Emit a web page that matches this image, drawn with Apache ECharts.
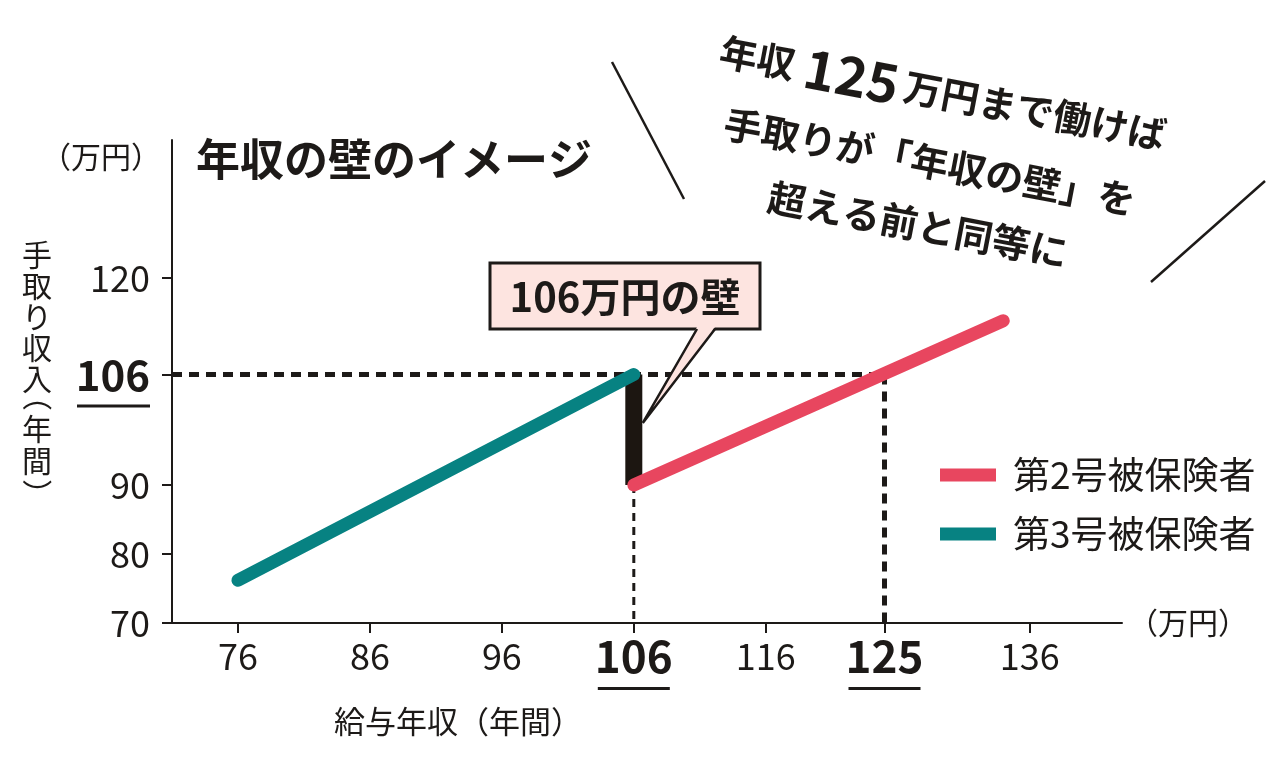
<!DOCTYPE html>
<html>
<head>
<meta charset="utf-8">
<script src="https://cdn.jsdelivr.net/npm/echarts@6/dist/echarts.min.js"></script>
<style>
html,body{margin:0;padding:0;background:#ffffff;}
#c{width:1280px;height:763px;}
</style>
</head>
<body>
<div id="c"></div>
<script>
// ---- data ----
const xTicks = [76, 86, 96, 106, 116, 125, 136];
const yTicks = [70, 80, 90, 106, 120];
const emphXTicks = [106, 125];
const emphYTicks = [106];
const seriesNames = ['第2号被保険者', '第3号被保険者'];
const dai2Line = [[106, 90], [134, 113.8]];
const dai3Line = [[76, 76.2], [106, 106]];
const wallBar = [[106, 90], [106, 106]];
const guideH106 = [[71, 106], [125, 106]];
const guideV125 = [[125, 106], [125, 70]];
const guideV106 = [[106, 90], [106, 70]];
const calloutTip = [106, 99];
const titleText = '年収の壁のイメージ';
const calloutText = '106万円の壁';
const unitText = '（万円）';
const yNameMain = '手\n取\nり\n収\n入';
const yNameSub = '年\n間';
const xNameText = '給与年収（年間）';
const noteText = '{a|年収}{n|125}{a|万円まで働けば}\n手取りが「年収の壁」を\n超える前と同等に';

const FONT = '"Noto Sans CJK JP", "Noto Sans CJK SC", sans-serif';
const INK = '#1d1a18';
const RED = '#e8465f';
const TEAL = '#078282';
const PINK = '#fde4e0';

const chart = echarts.init(document.getElementById('c'), null, {renderer: 'canvas'});

const option = {
  animation: false,
  backgroundColor: '#ffffff',
  grid: {left: 172, right: 158, top: 140, bottom: 140, containLabel: false},
  legend: {
    data: seriesNames,
    orient: 'vertical',
    left: 940,
    top: 453,
    padding: 0,
    itemWidth: 56,
    itemHeight: 13,
    itemGap: 15,
    icon: 'rect',
    itemStyle: {borderWidth: 0},
    textStyle: {fontFamily: FONT, fontSize: 37, lineHeight: 44, color: INK, padding: [0, 0, 0, 12]},
    selectedMode: false
  },
  xAxis: {
    type: 'value',
    min: 71,
    max: 143,
    name: unitText,
    nameLocation: 'end',
    nameGap: 6,
    nameTextStyle: {fontFamily: FONT, fontSize: 30, color: INK, verticalAlign: 'middle'},
    axisLine: {show: true, lineStyle: {color: INK, width: 2}},
    axisTick: {show: true, length: 10, lineStyle: {color: INK, width: 2}, customValues: xTicks},
    splitLine: {show: false},
    axisLabel: {
      customValues: xTicks,
      margin: 2,
      fontFamily: FONT,
      color: INK,
      formatter: function (v) {
        return emphXTicks.indexOf(v) >= 0 ? '{b|' + v + '}\n{u|}' : '{r|' + v + '}';
      },
      rich: {
        r: {fontFamily: FONT, fontSize: 36, lineHeight: 62, color: INK},
        b: {fontFamily: FONT, fontSize: 44, fontWeight: 'bold', lineHeight: 62, color: INK},
        u: {width: 72, height: 3, backgroundColor: INK}
      }
    }
  },
  yAxis: {
    type: 'value',
    min: 70,
    max: 140,
    axisLine: {show: true, lineStyle: {color: INK, width: 2}},
    axisTick: {show: true, length: 10, lineStyle: {color: INK, width: 2}, customValues: yTicks},
    splitLine: {show: false},
    axisLabel: {
      customValues: yTicks,
      margin: 22,
      fontFamily: FONT,
      color: INK,
      formatter: function (v) {
        return emphYTicks.indexOf(v) >= 0 ? '{sp|}\n{yb|' + v + '}\n{u|}' : '{yr|' + v + '}';
      },
      rich: {
        yr: {fontFamily: FONT, fontSize: 36, lineHeight: 44, color: INK},
        yb: {fontFamily: FONT, fontSize: 42, fontWeight: 'bold', lineHeight: 60, color: INK},
        sp: {width: 10, height: 3},
        u: {width: 73, height: 3, backgroundColor: INK}
      }
    }
  },
  series: [
    {
      name: 'guide-h', type: 'line', data: guideH106, symbol: 'none', silent: true, z: 1,
      lineStyle: {color: INK, width: 5, type: [10, 7]}
    },
    {
      name: 'guide-125', type: 'line', data: guideV125, symbol: 'none', silent: true, z: 1,
      lineStyle: {color: INK, width: 5, type: [10, 7]}
    },
    {
      name: 'guide-106', type: 'line', data: guideV106, symbol: 'none', silent: true, z: 1,
      lineStyle: {color: INK, width: 3, type: [8, 6]}
    },
    {
      name: 'wall', type: 'line', data: wallBar, symbol: 'none', silent: true, z: 2,
      lineStyle: {color: '#1c1611', width: 17, cap: 'butt'}
    },
    {
      name: seriesNames[1], type: 'line', data: dai3Line, symbol: 'none', z: 3,
      itemStyle: {color: TEAL},
      lineStyle: {color: TEAL, width: 13, cap: 'round'}
    },
    {
      name: seriesNames[0], type: 'line', data: dai2Line, symbol: 'none', z: 3,
      itemStyle: {color: RED},
      lineStyle: {color: RED, width: 13, cap: 'round'}
    }
  ]
};

chart.setOption(option);

const tip = chart.convertToPixel({gridIndex: 0}, calloutTip);
const tipX = tip[0] + 9;
const tipY = tip[1];
const bx = 490, by = 263, bw = 270, bh = 66;
const p1 = 697, p2 = 715;
const CW = -Math.PI / 2;

chart.setOption({
  graphic: [
    {
      type: 'text', id: 'title', x: 196, y: 159, z: 20,
      style: {text: titleText, fontFamily: FONT, fontSize: 44, fontWeight: 'bold', fill: INK, align: 'left', verticalAlign: 'middle'}
    },
    {
      type: 'text', id: 'yunit', x: 101, y: 157, z: 20,
      style: {text: unitText, fontFamily: FONT, fontSize: 30, fill: INK, align: 'center', verticalAlign: 'middle'}
    },
    {
      type: 'text', id: 'yname1', x: 37, y: 239, z: 20,
      style: {text: yNameMain, fontFamily: FONT, fontSize: 30, lineHeight: 31, fill: INK, align: 'center', verticalAlign: 'top'}
    },
    {
      type: 'text', id: 'yparenL', x: 37, y: 396, z: 20, rotation: CW,
      style: {text: '（', fontFamily: FONT, fontSize: 30, fill: INK, align: 'center', verticalAlign: 'middle'}
    },
    {
      type: 'text', id: 'yname2', x: 37, y: 413, z: 20,
      style: {text: yNameSub, fontFamily: FONT, fontSize: 30, lineHeight: 32, fill: INK, align: 'center', verticalAlign: 'top'}
    },
    {
      type: 'text', id: 'yparenR', x: 37, y: 494, z: 20, rotation: CW,
      style: {text: '）', fontFamily: FONT, fontSize: 30, fill: INK, align: 'center', verticalAlign: 'middle'}
    },
    {
      type: 'text', id: 'xname', x: 458, y: 721, z: 20,
      style: {text: xNameText, fontFamily: FONT, fontSize: 31, fill: INK, align: 'center', verticalAlign: 'middle'}
    },
    {
      type: 'rect', id: 'cbox', z: 10,
      shape: {x: bx, y: by, width: bw, height: bh},
      style: {fill: PINK, stroke: INK, lineWidth: 3}
    },
    {
      type: 'polygon', id: 'cptrfill', z: 11,
      shape: {points: [[p1, by + bh - 2], [p2, by + bh - 2], [tipX, tipY]]},
      style: {fill: PINK}
    },
    {
      type: 'polyline', id: 'cptrline', z: 12,
      shape: {points: [[p1, by + bh], [tipX, tipY], [p2, by + bh]]},
      style: {stroke: INK, lineWidth: 2.5, fill: null, lineJoin: 'miter'}
    },
    {
      type: 'text', id: 'ctext', x: bx + bw / 2, y: by + bh / 2 + 1, z: 13,
      style: {text: calloutText, fontFamily: FONT, fontSize: 40, fontWeight: 'bold', fill: INK, align: 'center', verticalAlign: 'middle'}
    },
    {
      type: 'text', id: 'note', x: 931, y: 156, z: 20,
      rotation: -10.8 * Math.PI / 180,
      style: {
        text: noteText,
        fontFamily: FONT, fontSize: 38, fontWeight: 'bold', lineHeight: 64, fill: INK,
        align: 'center', verticalAlign: 'middle',
        rich: {
          a: {fontFamily: FONT, fontSize: 38, fontWeight: 'bold', lineHeight: 76, fill: INK},
          n: {fontFamily: FONT, fontSize: 54, fontWeight: 'bold', lineHeight: 76, fill: INK, padding: [0, 6, 0, 10]}
        }
      }
    },
    {
      type: 'line', id: 'diagL', z: 20,
      shape: {x1: 612, y1: 62, x2: 684, y2: 199},
      style: {stroke: INK, lineWidth: 2.5}
    },
    {
      type: 'line', id: 'diagR', z: 20,
      shape: {x1: 1265, y1: 181, x2: 1151, y2: 282},
      style: {stroke: INK, lineWidth: 2.5}
    }
  ]
});
</script>
</body>
</html>
